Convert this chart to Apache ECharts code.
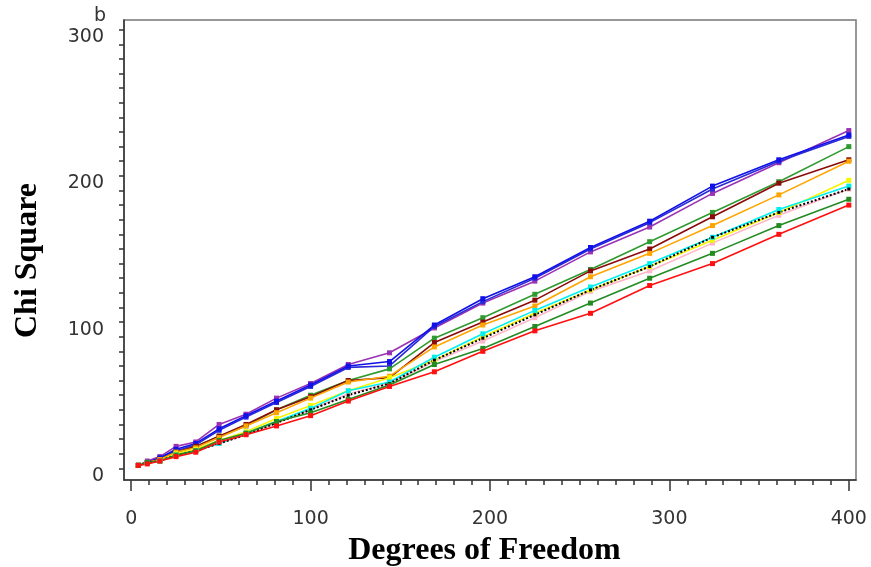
<!DOCTYPE html>
<html><head><meta charset="utf-8">
<script src="https://cdn.jsdelivr.net/npm/echarts@6/dist/echarts.min.js"></script>
<style>html,body{margin:0;padding:0;background:#fff}#c{width:871px;height:567px}</style>
</head><body><div id="c"></div>
<script>
// Degrees of freedom (x positions of points)
const dof = [4, 9, 16, 25, 36, 49, 64, 81, 100, 121, 144, 169, 196, 225, 256, 289, 324, 361, 400];

// Chi square values per series
const purpleVals = [2, 5, 8, 15, 18, 30, 37, 48, 58, 71, 79, 96, 113, 128, 148, 165, 188, 209, 231];
const blueVals   = [2, 4, 7, 13, 17, 27, 36, 46, 57, 70, 73, 98, 116, 131, 151, 169, 193, 211, 228];
const blue2Vals  = [2, 4, 7, 12, 16, 26, 35, 45, 56, 69, 70, 97, 114, 130, 150, 168, 191, 210, 227];
const green1Vals = [2, 4, 6, 11, 15, 22, 29, 40, 50, 60, 68, 89, 103, 119, 136, 155, 175, 196, 220];
const maroonVals = [2, 4, 6, 11, 15, 22, 30, 40, 49, 60, 62, 86, 100, 115, 135, 150, 172, 195, 211];
const orangeVals = [2, 4, 6, 11, 14, 21, 29, 38, 48, 59, 63, 83, 98, 111, 131, 147, 166, 187, 210];
const yellowVals = [2, 4, 5, 10, 13, 19, 25, 34, 43, 53, 62, 74, 90, 106, 122, 138, 156, 175, 197];
const cyanVals   = [2, 4, 5, 9, 12, 17, 24, 32, 41, 53, 59, 76, 92, 108, 124, 140, 158, 177, 193];
const pinkVals   = [2, 4, 5, 9, 12, 17, 23, 31, 40, 51, 58, 73, 87, 103, 121, 135, 154, 173, 191];
const blackVals  = [2, 4, 5, 9, 12, 17, 23, 31, 40, 50, 58, 74, 89, 105, 122, 138, 158, 175, 191];
const green2Vals = [2, 4, 5, 9, 12, 19, 24, 32, 38, 47, 57, 71, 82, 97, 113, 130, 147, 166, 184];
const redVals    = [2, 3, 5, 8, 11, 18, 23, 29, 36, 46, 56, 66, 80, 94, 106, 125, 140, 160, 180];

// Tick positions and labels
const xTickValues = [0,10,20,30,40,50,60,70,80,90,100,110,120,130,140,150,160,170,180,190,200,210,220,230,240,250,260,270,280,290,300,310,320,330,340,350,360,370,380,390,400];
const xLabelValues = [0, 100, 200, 300, 400];
const yTickValues = [0,10,20,30,40,50,60,70,80,90,100,110,120,130,140,150,160,170,180,190,200,210,220,230,240,250,260,270,280,290,300];
const yLabelValues = [0, 100, 200, 300];

const xTitle = 'Degrees of Freedom';
const yTitle = 'Chi Square';
const panelLabel = 'b';

const seriesDefs = [
  { name: 'purple', vals: purpleVals, color: '#9a32b4' },
  { name: 'blue2',  vals: blue2Vals,  color: '#2a2ad8' },
  { name: 'blue',   vals: blueVals,   color: '#1010e8' },
  { name: 'green1', vals: green1Vals, color: '#2f9a2f' },
  { name: 'maroon', vals: maroonVals, color: '#8b0a0a' },
  { name: 'orange', vals: orangeVals, color: '#ffa500' },
  { name: 'pink',   vals: pinkVals,   color: '#ffb6c8' },
  { name: 'yellow', vals: yellowVals, color: '#f5f500' },
  { name: 'cyan',   vals: cyanVals,   color: '#00f0f0' },
  { name: 'black',  vals: blackVals,  color: '#000000', dotted: true },
  { name: 'green2', vals: green2Vals, color: '#228b22' },
  { name: 'red',    vals: redVals,    color: '#ff1010' }
];

const chart = echarts.init(document.getElementById('c'));
chart.setOption({
  animation: false,
  backgroundColor: '#fff',
  title: {
    text: panelLabel, left: 89, top: 2,
    textStyle: { fontFamily: 'DejaVu Sans', fontSize: 19, fontWeight: 'normal', color: '#333' }
  },
  graphic: [{
    type: 'text', left: 12, top: 183,
    rotation: Math.PI / 2,
    style: {
      text: yTitle, fill: '#000',
      font: 'bold 32px "Liberation Serif"'
    }
  }],
  grid: {
    left: 124, right: 15, top: 20, bottom: 87,
    show: true, borderColor: '#777', borderWidth: 1.5,
    outerBoundsMode: 'none'
  },
  xAxis: [{
    type: 'value', min: -4, max: 404, position: 'bottom',
    axisLine: { show: true, onZero: false, lineStyle: { color: '#333', width: 1.5 } },
    axisTick: { show: true, customValues: xTickValues, length: 5, lineStyle: { color: '#333', width: 1.5 } },
    axisLabel: { show: false },
    splitLine: { show: false }
  }, {
    type: 'value', min: -4, max: 404, position: 'bottom',
    axisLine: { show: false, onZero: false },
    axisTick: { show: true, customValues: xLabelValues, length: 11, lineStyle: { color: '#333', width: 1.5 } },
    axisLabel: { customValues: xLabelValues, margin: 30, fontFamily: 'DejaVu Sans', fontSize: 19, color: '#333' },
    splitLine: { show: false },
    name: xTitle, nameLocation: 'middle', nameGap: 55,
    nameTextStyle: { fontFamily: 'Liberation Serif', fontWeight: 'bold', fontSize: 32, color: '#000', padding: [0, 11, 0, 0] }
  }],
  yAxis: [{
    type: 'value', min: -8, max: 306.6, position: 'left',
    axisLine: { show: true, onZero: false, lineStyle: { color: '#333', width: 1.5 } },
    axisTick: { show: true, customValues: yTickValues, length: 5, lineStyle: { color: '#333', width: 1.5 } },
    axisLabel: { customValues: yLabelValues, margin: 20, fontFamily: 'DejaVu Sans', fontSize: 19, color: '#333', verticalAlign: 'top', lineHeight: 15 },
    splitLine: { show: false }
  }],
  series: seriesDefs.map(s => ({
    name: s.name,
    type: 'line',
    xAxisIndex: 0, yAxisIndex: 0,
    data: dof.map((x, i) => [x, s.vals[i]]),
    symbol: 'rect',
    symbolSize: s.dotted ? 3 : 5,
    showSymbol: true,
    itemStyle: { color: s.color },
    lineStyle: { color: s.color, width: s.dotted ? 2 : 1.6, type: s.dotted ? 'dotted' : 'solid' },
    emphasis: { disabled: true }
  }))
});
</script>
</body></html>
